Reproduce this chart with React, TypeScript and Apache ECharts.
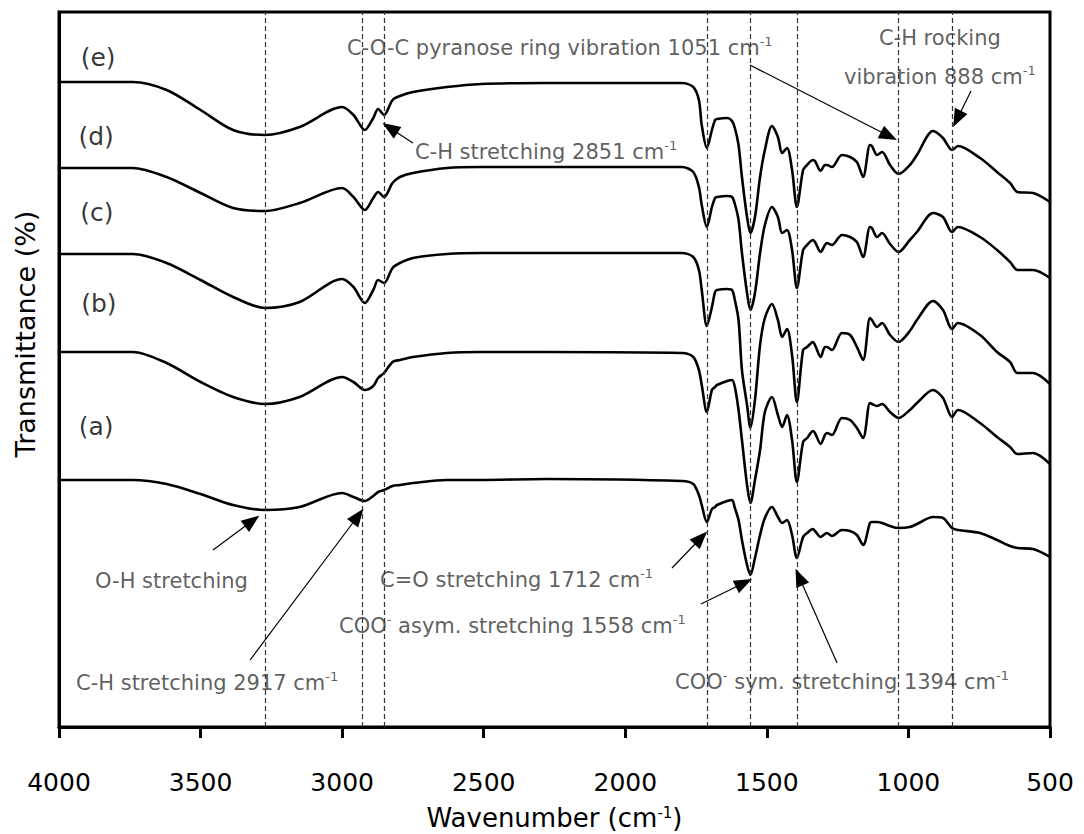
import React, { useEffect, useRef } from 'react';
import * as echarts from 'echarts';

// Wavenumber grid (cm-1) shared by the five spectra
const wavenumbers = [4000, 3740, 3620, 3500, 3385, 3272, 3150, 3000, 2960, 2920, 2890, 2873, 2852, 2822, 2796, 2750, 2630, 2510, 2280, 1800, 1760, 1740, 1730, 1712, 1694, 1683, 1676, 1640, 1623, 1613, 1600, 1588, 1570, 1558, 1542, 1524, 1507, 1482, 1461, 1446, 1429, 1411, 1394, 1372, 1358, 1337, 1330, 1310, 1295, 1288, 1270, 1235, 1206, 1182, 1160, 1136, 1129, 1111, 1093, 1065, 1035, 995, 970, 913, 878, 846, 825, 747, 687, 641, 615, 560, 500];

// Offset transmittance (arbitrary units)
const curveE = [645, 645, 637, 617, 597, 592, 600, 620, 612, 597, 609, 618, 612, 627, 631, 635, 640, 643, 644, 644, 640, 627, 602, 579, 597, 607, 608, 609, 606, 599, 582, 550, 510, 494, 510, 550, 577, 601, 590, 574, 579, 557, 520, 557, 562, 567, 566, 556, 562, 562, 560, 572, 570, 565, 550, 582, 581, 572, 575, 562, 553, 562, 572, 596, 589, 577, 581, 569, 555, 544, 535, 534, 525];
const curveD = [559, 559, 550, 534, 519, 516, 524, 539, 530, 517, 529, 535, 530, 544, 550, 554, 559, 560, 560, 560, 555, 540, 522, 500, 520, 529, 530, 531, 530, 523, 507, 474, 434, 417, 434, 474, 502, 520, 510, 494, 497, 477, 439, 477, 482, 487, 485, 475, 482, 484, 482, 492, 490, 485, 470, 500, 499, 490, 494, 483, 475, 487, 495, 514, 510, 495, 500, 490, 477, 465, 457, 457, 449];
const curveC = [473, 473, 464, 447, 430, 419, 425, 448, 440, 424, 437, 447, 444, 459, 464, 469, 473, 474, 474, 474, 470, 457, 437, 401, 420, 435, 437, 438, 437, 427, 407, 357, 322, 299, 327, 382, 409, 423, 407, 390, 398, 372, 325, 377, 380, 385, 382, 370, 380, 380, 377, 394, 392, 380, 367, 409, 407, 400, 404, 392, 385, 396, 407, 426, 417, 398, 404, 392, 375, 365, 354, 354, 343];
const curveB = [375, 375, 364, 345, 330, 323, 330, 350, 345, 337, 341, 349, 354, 365, 367, 370, 374, 375, 375, 374, 370, 357, 342, 315, 337, 340, 342, 346, 347, 340, 317, 287, 242, 224, 247, 277, 315, 330, 312, 300, 312, 287, 245, 285, 289, 296, 294, 283, 292, 294, 292, 309, 307, 299, 289, 324, 323, 321, 323, 315, 309, 317, 324, 337, 329, 310, 317, 304, 290, 280, 273, 274, 263];
const curveA = [247, 247, 243, 233, 222, 217, 220, 234, 230, 226, 231, 235, 237, 241, 242, 244, 247, 247, 248, 246, 243, 232, 222, 205, 218, 220, 222, 226, 227, 219, 207, 187, 162, 152, 169, 192, 209, 220, 210, 204, 207, 192, 169, 190, 194, 198, 196, 190, 193, 194, 191, 197, 196, 192, 182, 204, 205, 205, 204, 201, 199, 200, 203, 210, 209, 199, 197, 194, 187, 181, 179, 178, 170];

const curveNames = ['(a)', '(b)', '(c)', '(d)', '(e)'];
const curveValues = [curveA, curveB, curveC, curveD, curveE];
const curveLabelAt = [[3869, 301], [3859, 424], [3866, 515], [3869, 591], [3862, 670]];

// Dashed band marker lines (cm-1)
const bandLines = [3272, 2928, 2851, 1712, 1558, 1394, 1035, 845];

// Annotation texts
const noteTexts = [
  'C-O-C pyranose ring vibration 1051 cm{sup|-1}',
  'C-H rocking',
  'vibration 888 cm{sup|-1}',
  'C-H stretching 2851 cm{sup|-1}',
  'O-H stretching',
  'C-H stretching 2917 cm{sup|-1}',
  'C=O stretching 1712 cm{sup|-1}',
  'COO{sup|-} asym. stretching 1558 cm{sup|-1}',
  'COO{sup|-} sym. stretching 1394 cm{sup|-1}',
];
const noteAt = [[2983, 679], [889, 689], [889, 650], [2743, 575], [3873, 146], [3940, 44], [2866, 147], [3011, 101], [1824, 45]];
const noteAlign = ['left', 'center', 'center', 'left', 'left', 'left', 'left', 'left', 'left'];

// Arrows: from -> to (arrow head centre)
const arrowFrom = [[1560, 662], [779, 636], [2750, 584], [3456, 177], [3325, 67], [1835, 159], [1733, 123], [1252, 64]];
const arrowTo = [[1069, 591], [828, 608], [2831, 599], [3318, 206], [2944, 211], [1733, 189], [1581, 144], [1386, 150]];

const FONT = 'DejaVu Sans';

export default function App() {
  const ref = useRef<HTMLDivElement>(null);

  useEffect(() => {
    const chart = echarts.init(ref.current as HTMLDivElement, null, { renderer: 'svg' });

    const supStyle = { fontFamily: FONT, fontSize: 13, lineHeight: 14, verticalAlign: 'top', color: '#353535' };

    const lineSeries = curveValues.map((vals, k) => ({
      type: 'line',
      name: curveNames[k],
      data: wavenumbers.map((w, i) => [w, vals[i]]),
      showSymbol: false,
      smooth: 0.3,
      lineStyle: { color: '#000', width: 2.6 },
      z: 3,
      silent: true,
      markLine: k === 4 ? {
        silent: true,
        symbol: ['none', 'none'],
        label: { show: false },
        lineStyle: { color: '#333', width: 1.2, type: [5, 3] },
        data: bandLines.map((x) => ({ xAxis: x })),
      } : undefined,
    }));

    const noteData = [
      ...noteTexts.map((t, i) => ({
        value: noteAt[i],
        label: { formatter: t, align: noteAlign[i] },
      })),
      ...curveNames.map((t, i) => ({
        value: curveLabelAt[i],
        label: { formatter: t, align: 'center', fontSize: 25, color: '#000' },
      })),
    ];

    const option = {
      animation: false,
      grid: {
        left: 59, right: 34, top: 12, bottom: 107,
        show: true, borderColor: '#000', borderWidth: 3,
        containLabel: false, outerBoundsMode: 'none',
      },
      xAxis: {
        type: 'value',
        min: 500,
        max: 4000,
        interval: 500,
        inverse: true,
        axisLine: { lineStyle: { color: '#000', width: 3 } },
        axisTick: { show: true, length: 11, lineStyle: { color: '#000', width: 3 } },
        axisLabel: {
          fontFamily: FONT, fontSize: 25, color: '#000', margin: 43,
          showMinLabel: true, showMaxLabel: true,
          formatter: (v: number) => String(v),
        },
        splitLine: { show: false },
        name: 'Wavenumber (cm{sup|-1})',
        nameLocation: 'middle',
        nameGap: 78,
        nameTextStyle: {
          fontFamily: FONT, fontSize: 26, color: '#000',
          rich: { sup: { fontFamily: FONT, fontSize: 15, lineHeight: 16, verticalAlign: 'top', color: '#000' } },
        },
      },
      yAxis: {
        type: 'value',
        min: 0,
        max: 715,
        axisLine: { show: true, lineStyle: { color: '#000', width: 3 } },
        axisTick: { show: false },
        axisLabel: { show: false },
        splitLine: { show: false },
      },
      graphic: [
        {
          type: 'text',
          x: 25,
          y: 334,
          rotation: Math.PI / 2,
          style: { text: 'Transmittance (%)', fontFamily: FONT, fontSize: 27, fill: '#000', align: 'center', verticalAlign: 'middle' },
        },
      ],
      series: [
        ...lineSeries,
        {
          type: 'scatter',
          name: 'notes',
          symbolSize: 0,
          silent: true,
          z: 5,
          data: noteData,
          label: {
            show: true,
            position: 'inside',
            fontFamily: FONT,
            fontSize: 21,
            lineHeight: 26,
            color: '#353535',
            verticalAlign: 'middle',
            rich: { sup: supStyle },
          },
          markLine: {
            silent: true,
            symbol: ['none', 'triangle'],
            symbolSize: [14, 18],
            label: { show: false },
            lineStyle: { color: '#000', width: 1.2, type: 'solid' },
            data: arrowFrom.map((f, i) => [{ coord: f }, { coord: arrowTo[i] }]),
          },
        },
      ],
    };

    chart.setOption(option as any);
    return () => chart.dispose();
  }, []);

  return (
    <div
      ref={ref}
      style={{ position: 'fixed', left: 0, top: 0, width: 1084, height: 834, background: '#fff' }}
    />
  );
}
